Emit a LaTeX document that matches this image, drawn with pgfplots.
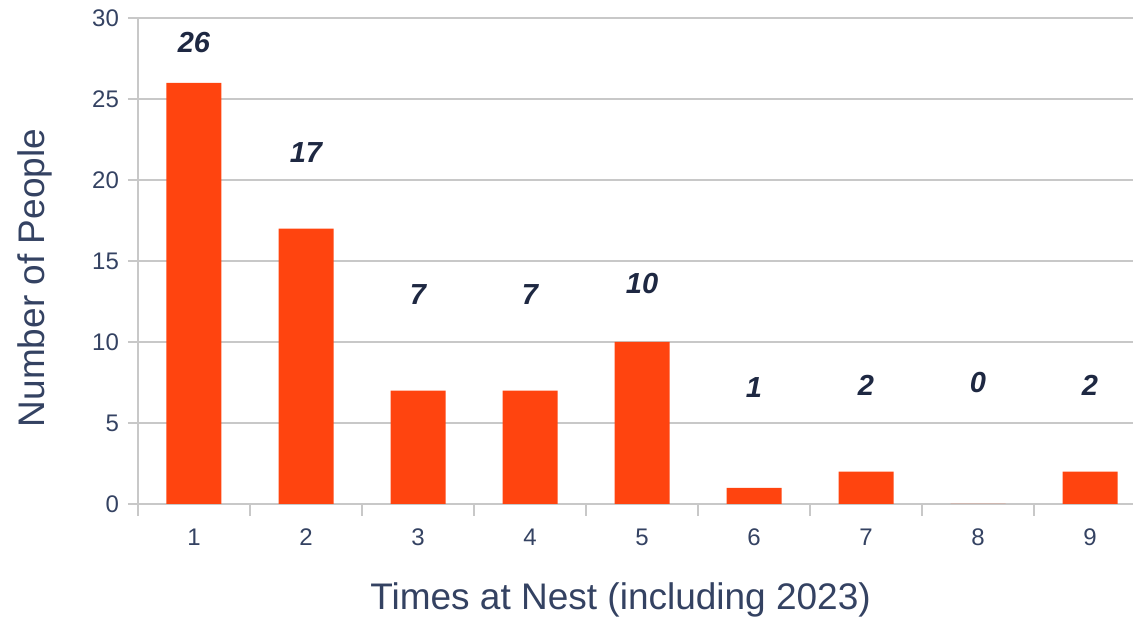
\documentclass[border=0pt]{standalone}
\usepackage{pgfplots}
\pgfplotsset{compat=1.18}
\usepackage{fontspec}
\setmainfont{Liberation Sans}
\definecolor{barc}{RGB}{255,68,15}
\definecolor{txt}{RGB}{52,66,98}
\definecolor{lab}{RGB}{30,40,66}
\definecolor{gridc}{RGB}{200,200,200}
\begin{document}
\begin{tikzpicture}
\begin{axis}[
  at={(0,0)}, anchor=south west,
  scale only axis,
  width=497.5pt, height=243pt,
  xmin=0.5, xmax=9.384,
  ymin=0, ymax=30,
  axis x line=bottom, axis y line=left,
  axis line style={draw=gridc, line width=0.8pt, -},
  xtick={1,...,9},
  major x tick style={draw=none},
  extra x ticks={0.5,1.5,2.5,3.5,4.5,5.5,6.5,7.5,8.5},
  extra x tick labels={},
  extra x tick style={major tick length=6pt, tick align=outside,
     major x tick style={draw=gridc, line width=0.8pt}, grid=none},
  ytick={0,5,...,30},
  tick align=outside,
  major tick length=5pt,
  ymajorgrids,
  grid style={draw=gridc, line width=0.8pt},
  y tick style={draw=gridc, line width=0.8pt},
  tick label style={font=\fontsize{12}{14}\selectfont, text=txt},
  /pgf/number format/assume math mode=true,
  xticklabel style={yshift=-4pt},
  yticklabel style={xshift=-1pt},
  xlabel={Times at Nest (including 2023)},
  ylabel={Number of People},
  label style={font=\fontsize{18.5}{20}\selectfont, text=txt},
  xlabel style={at={(rel axis cs:0.485,0)}, anchor=center, yshift=-48pt},
  ylabel style={at={(rel axis cs:0,0.465)}, anchor=center, rotate=0, yshift=51.5pt},
  clip=false,
]
\addplot[ybar, bar width=27.5pt, fill=barc, draw=none] coordinates {
  (1,26) (2,17) (3,7) (4,7) (5,10) (6,1) (7,2) (8,0) (9,2)
};
\addplot[only marks, mark=none,
  nodes near coords, point meta=explicit symbolic,
  every node near coord/.style={anchor=center, font=\fontsize{14.5}{16}\selectfont\bfseries\itshape, text=lab}
] coordinates {
  (1,28.5) [26]
  (2,21.7) [17]
  (3,12.9) [7]
  (4,12.9) [7]
  (5,13.6) [10]
  (6,7.2) [1]
  (7,7.3) [2]
  (8,7.5) [0]
  (9,7.3) [2]
};
\end{axis}
\pgfresetboundingbox
\path[use as bounding box] (-69pt,-60.5pt) rectangle (497.5pt,252pt);
\end{tikzpicture}
\end{document}
